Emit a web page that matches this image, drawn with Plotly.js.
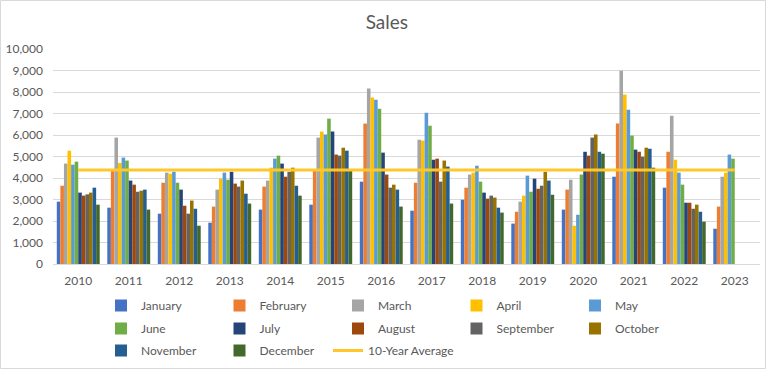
<!DOCTYPE html>
<html>
<head>
<meta charset="utf-8">
<script src="https://cdn.plot.ly/plotly-3.0.1.min.js"></script>
<style>
html,body{margin:0;padding:0;background:#fff;}
#chart{width:766px;height:369px;}
</style>
</head>
<body>
<div id="chart"></div>
<script>
const years = ['2010','2011','2012','2013','2014','2015','2016','2017','2018','2019','2020','2021','2022','2023'];
const months = ['January','February','March','April','May','June','July','August','September','October','November','December'];
const january   = [2900, 2620, 2340, 1920, 2530, 2760, 3830, 2480, 2990, 1880, 2530, 4060, 3550, 1640];
const february  = [3640, 4360, 3780, 2670, 3600, 4340, 6530, 3780, 3550, 2430, 3460, 6530, 5220, 2670];
const march     = [4670, 5880, 4250, 3460, 3880, 5880, 8160, 5780, 4160, 2900, 3920, 8990, 6900, 4060];
const april     = [5270, 4700, 4200, 3970, 4480, 6160, 7740, 5740, 4250, 3180, 1780, 7880, 4850, 4250];
const may       = [4620, 4950, 4290, 4250, 4900, 6020, 7640, 7040, 4570, 4110, 2290, 7180, 4250, 5090];
const june      = [4760, 4810, 3780, 3920, 5040, 6760, 7220, 6430, 3830, 3360, 4160, 5970, 3690, 4900];
const july      = [3320, 3880, 3460, 4290, 4670, 6160, 5180, 4850, 3320, 3970, 5220, 5320, 2850, null];
const august    = [3180, 3690, 2710, 3740, 4060, 5090, 4160, 4900, 3040, 3500, 5040, 5220, 2850, null];
const september = [3240, 3360, 2340, 3600, 4290, 5040, 3550, 3830, 3180, 3640, 5880, 4990, 2570, null];
const october   = [3320, 3410, 2950, 3880, 4480, 5410, 3690, 4810, 3090, 4290, 6020, 5410, 2760, null];
const november  = [3550, 3460, 2570, 3270, 3640, 5270, 3460, 4530, 2620, 3880, 5220, 5360, 2430, null];
const december  = [2760, 2530, 1780, 2810, 3180, 4330, 2670, 2810, 2390, 3220, 5130, 4480, 1970, null];
const tenYearAverage = [4370, 4370, 4370, 4370, 4370, 4370, 4370, 4370, 4370, 4370, 4370, 4370, 4370, 4370];

const series = [january, february, march, april, may, june, july, august, september, october, november, december];
const colors = ['#4472C4','#ED7D31','#A5A5A5','#FFC000','#5B9BD5','#70AD47','#264478','#9E480E','#636363','#997300','#255E91','#43682B'];
const legendFor = i => i < 5 ? 'legend' : (i < 10 ? 'legend2' : 'legend3');

const traces = series.map((vals, i) => ({
  type: 'bar', name: months[i], x: years, y: vals,
  marker: {color: colors[i], line: {width: 0}},
  legend: legendFor(i)
}));
traces.push({
  type: 'scatter', mode: 'lines', name: '10-Year Average', x: years, y: tenYearAverage,
  line: {color: '#FFC72C', width: 3}, legend: 'legend4'
});

const FONT = 'Lato, "Liberation Sans", Arial, sans-serif';
const grey = '#595959';
const W = 766, H = 369, ml = 53, mr = 6, mt = 49, mb = 105;
const pw = W - ml - mr, ph = H - mt - mb;
const px = x => (x - ml) / pw;
const py = y => (H - mb - y) / ph;

const legBase = {
  orientation: 'h', xanchor: 'left', yanchor: 'middle', x: px(101),
  font: {family: FONT, size: 12, color: grey}, entrywidth: 73.5, entrywidthmode: 'pixels',
  itemwidth: 30, bgcolor: 'rgba(0,0,0,0)', traceorder: 'normal', itemclick: false
};

const layout = {
  width: W, height: H,
  margin: {l: ml, r: mr, t: mt, b: mb, pad: 0, autoexpand: false},
  paper_bgcolor: '#fff', plot_bgcolor: '#fff',
  font: {family: FONT, size: 12, color: grey},
  title: {text: 'Sales', font: {family: FONT, size: 19, color: grey}, x: 0.505, xanchor: 'center', y: 1 - 22/H, yanchor: 'middle', yref: 'container'},
  barmode: 'group', bargap: 0.15, bargroupgap: 0,
  xaxis: {type: 'category', showgrid: false, showline: true, linecolor: '#D9D9D9', linewidth: 1,
          ticks: '', ticklabelstandoff: 6, tickfont: {family: FONT, size: 12, color: grey}, fixedrange: true},
  yaxis: {range: [0, 10000], dtick: 1000, tickformat: ',', showgrid: true, gridcolor: '#D9D9D9', gridwidth: 1,
          zeroline: false, showline: false, ticks: '', ticklabelstandoff: 9,
          tickfont: {family: FONT, size: 12, color: grey}, fixedrange: true},
  legend:  Object.assign({}, legBase, {y: py(305.5)}),
  legend2: Object.assign({}, legBase, {y: py(328.5)}),
  legend3: Object.assign({}, legBase, {y: py(350.5)}),
  legend4: Object.assign({}, legBase, {y: py(350.5), x: px(328), entrywidth: 0}),
  shapes: [{type: 'rect', xref: 'paper', yref: 'paper', x0: px(0.5), x1: px(765.5), y0: py(368.5), y1: py(0.5),
            line: {color: '#D9D9D9', width: 1}, fillcolor: 'rgba(0,0,0,0)', layer: 'below'}],
  showlegend: true
};

Plotly.newPlot('chart', traces, layout, {displayModeBar: false, staticPlot: true});
</script>
</body>
</html>
